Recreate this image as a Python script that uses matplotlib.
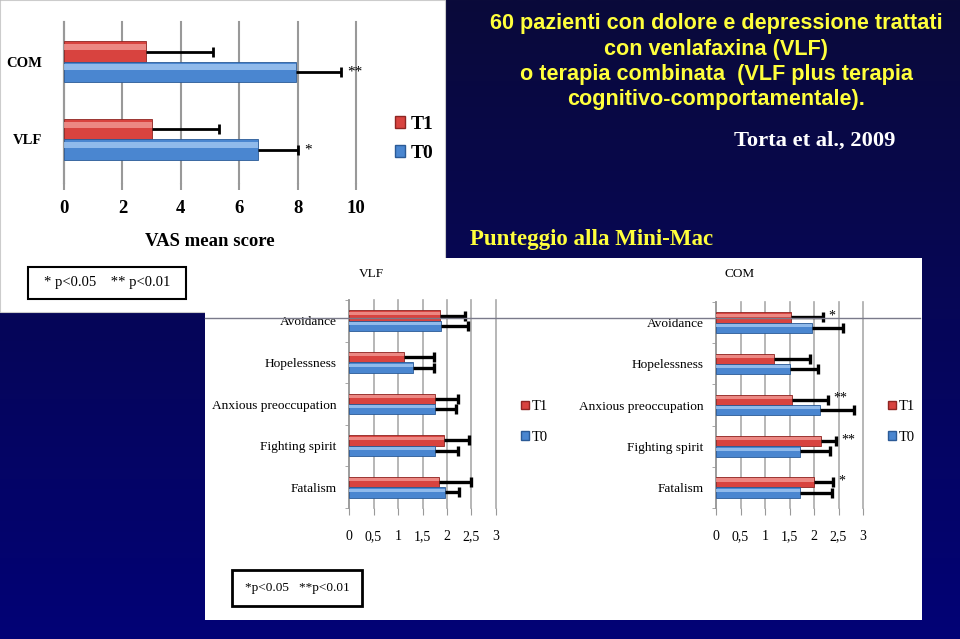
import numpy as np
import matplotlib
matplotlib.use('Agg')
import matplotlib.pyplot as plt
from matplotlib.patches import Rectangle, Patch
from matplotlib.lines import Line2D

# VAS chart
vas_cats = ['VLF', 'COM']
vas_t1 = [3.03, 2.80]
vas_t1_err = [2.27, 2.30]
vas_t0 = [6.63, 7.93]
vas_t0_err = [1.37, 1.54]
vas_stars = ['*', '**']

# Mini-Mac charts (top to bottom)
mm_cats = ['Avoidance', 'Hopelessness', 'Anxious preoccupation', 'Fighting spirit', 'Fatalism']
vlf_t1 = [1.85, 1.12, 1.76, 1.94, 1.84]
vlf_t1_err = [0.51, 0.61, 0.47, 0.50, 0.66]
vlf_t0 = [1.88, 1.31, 1.76, 1.76, 1.95]
vlf_t0_err = [0.54, 0.42, 0.43, 0.47, 0.30]
com_t1 = [1.54, 1.19, 1.56, 2.15, 2.00]
com_t1_err = [0.64, 0.73, 0.72, 0.30, 0.39]
com_t0 = [1.95, 1.50, 2.12, 1.72, 1.71]
com_t0_err = [0.64, 0.59, 0.69, 0.61, 0.65]
com_stars = ['*', '', '**', '**', '*']
mm_ticks = [0, 0.5, 1, 1.5, 2, 2.5, 3]
mm_ticklabels = ['0', '0,5', '1', '1,5', '2', '2,5', '3']

title_lines = ['60 pazienti con dolore e depressione trattati',
               'con venlafaxina (VLF)',
               'o terapia combinata  (VLF plus terapia',
               'cognitivo-comportamentale).']

W, H = 960, 639
RED, RED_HI, RED_ED = '#d8433f', '#f29a95', '#8e2522'
BLUE, BLUE_HI, BLUE_ED = '#4a86d0', '#a3c8f2', '#2b5a96'
YELLOW = '#ffff3c'
SERIF = 'Liberation Serif'
SANS = 'Liberation Sans'


def box(x0, y0, x1, y1):
    return [x0 / W, 1 - y1 / H, (x1 - x0) / W, (y1 - y0) / H]


def fx(x):
    return x / W


def fy(y):
    return 1 - y / H


fig = plt.figure(figsize=(9.6, 6.39), dpi=100)

# navy gradient background
bg = fig.add_axes([0, 0, 1, 1], zorder=-10)
c_top = np.array([10, 10, 58]) / 255
c_bot = np.array([2, 2, 118]) / 255
t = np.linspace(0, 1, 256)[:, None]
grad = (c_top[None, :] * (1 - t) + c_bot[None, :] * t)[:, None, :]
bg.imshow(grad, aspect='auto', extent=[0, 1, 0, 1])
bg.set_xlim(0, 1)
bg.set_ylim(0, 1)
bg.axis('off')

# white panels
fig.patches.append(Rectangle((fx(0), fy(312)), fx(445), 312 / H, transform=fig.transFigure,
                             facecolor='white', edgecolor='#cccccc', lw=0.8, zorder=-5))
fig.patches.append(Rectangle((fx(205), fy(620)), fx(922 - 205), (620 - 258) / H, transform=fig.transFigure,
                             facecolor='white', edgecolor='none', zorder=-4))


def one_err(ax, x, e, y, lw, cap):
    # one-sided error bar: line from bar end to bar end + err, cap only at the outer end
    ax.hlines(y, x, np.add(x, e), color='black', lw=lw, zorder=4)
    ax.plot(np.add(x, e), y, ls='none', marker='|', ms=cap, mew=lw, color='black', zorder=4)


def draw_bars(ax, y, t1, t1e, t0, t0e, h, cap, lw):
    ax.barh(y + h / 2, t1, h, color=RED, edgecolor=RED_ED, lw=0.6, zorder=3, label='T1')
    ax.barh(y + h * 0.72, t1, h * 0.3, color=RED_HI, lw=0, zorder=3.5, alpha=0.8)
    ax.barh(y - h / 2, t0, h, color=BLUE, edgecolor=BLUE_ED, lw=0.6, zorder=3, label='T0')
    ax.barh(y - h * 0.28, t0, h * 0.3, color=BLUE_HI, lw=0, zorder=3.5, alpha=0.8)
    one_err(ax, t1, t1e, y + h / 2, lw, cap)
    one_err(ax, t0, t0e, y - h / 2, lw, cap)


# ---- VAS chart ----
ax1 = fig.add_axes(box(64, 22, 356, 183))
y1 = np.arange(len(vas_cats))
h1 = 0.26
draw_bars(ax1, y1, vas_t1, vas_t1_err, vas_t0, vas_t0_err, h1, 7, 2)
ax1.set_xlim(0, 10)
ax1.set_ylim(-0.56, 1.51)
ax1.set_xticks(range(0, 11, 2))
ax1.set_xticklabels([str(v) for v in range(0, 11, 2)], fontfamily=SERIF, fontweight='bold', fontsize=13.5)
ax1.set_yticks(y1)
ax1.set_yticklabels(vas_cats, fontfamily=SERIF, fontweight='bold', fontsize=10.5)
ax1.tick_params(axis='y', length=0, pad=16)
ax1.tick_params(axis='x', length=5, color='#999999', width=1.5, pad=7)
ax1.grid(axis='x', color='#999999', lw=1.5, zorder=0)
for gl in ax1.get_xgridlines():
    gl.set_clip_on(False)
for s in ['top', 'right', 'bottom']:
    ax1.spines[s].set_visible(False)
ax1.spines['left'].set_color('#999999')
ax1.spines['left'].set_linewidth(1.5)
ax1.set_xlabel('VAS mean score', fontfamily=SERIF, fontweight='bold', fontsize=13.5, labelpad=12)
for i, s in enumerate(vas_stars):
    ax1.annotate(s, (vas_t0[i] + vas_t0_err[i], y1[i] - h1 / 2), xytext=(5, 0), textcoords='offset points',
                 ha='left', va='center', fontsize=11, fontfamily=SERIF)
fig.legend(handles=[Patch(facecolor=RED, edgecolor=RED_ED), Patch(facecolor=BLUE, edgecolor=BLUE_ED)],
           labels=['T1', 'T0'], loc='center left', bbox_to_anchor=(fx(385), fy(139)),
           frameon=False, borderpad=0, handlelength=0.55, handleheight=0.55, handletextpad=0.25,
           labelspacing=0.6, prop=dict(family=SERIF, weight='bold', size=14))

fig.patches.append(Rectangle((fx(28), fy(299)), fx(186 - 28), 32 / H, transform=fig.transFigure,
                             facecolor='white', edgecolor='black', lw=1.5, zorder=2))
fig.text(fx(107), fy(283), '* p<0.05    ** p<0.01', ha='center', va='center',
         fontfamily=SERIF, fontsize=10.5)


# ---- Mini-Mac charts ----
def minimac(rect, title, tx, t1, t1e, t0, t0e, stars, leg_x):
    ax = fig.add_axes(box(*rect))
    y = np.arange(len(mm_cats))[::-1]
    h = 0.25
    draw_bars(ax, y, t1, t1e, t0, t0e, h, 7, 2.4)
    ax.set_xlim(0, 3)
    ax.set_ylim(-0.5, 4.5)
    ax.set_xticks(mm_ticks)
    ax.set_xticklabels(mm_ticklabels, fontfamily=SERIF, fontsize=10)
    ax.set_yticks(y)
    ax.set_yticklabels(mm_cats, fontfamily=SERIF, fontsize=9.6)
    ax.set_yticks(np.arange(-0.5, 5, 1), minor=True)
    ax.tick_params(axis='y', which='major', length=0, pad=9)
    ax.tick_params(axis='y', which='minor', length=3, color='#999999')
    ax.tick_params(axis='x', length=5, color='#999999', pad=11)
    ax.grid(axis='x', color='#aaaaaa', lw=1.2, zorder=0)
    for gl in ax.get_xgridlines():
        gl.set_clip_on(False)
    for s in ['top', 'right', 'bottom']:
        ax.spines[s].set_visible(False)
    ax.spines['left'].set_color('#999999')
    ax.spines['left'].set_linewidth(1.2)
    for i, s in enumerate(stars):
        if s:
            ax.annotate(s, (t1[i] + t1e[i], y[i] + h / 2), xytext=(4, 1), textcoords='offset points',
                        ha='left', va='center', fontsize=10, fontfamily=SERIF)
    fig.text(fx(tx), fy(274), title, ha='center', va='center', fontfamily=SERIF, fontsize=9.5)
    fig.legend(handles=[Patch(facecolor=RED, edgecolor=RED_ED), Patch(facecolor=BLUE, edgecolor=BLUE_ED)],
               labels=['T1', 'T0'], loc='center left', bbox_to_anchor=(fx(leg_x), fy(422)),
               frameon=False, borderpad=0, handlelength=0.5, handleheight=0.5, handletextpad=0.2,
               labelspacing=1.2, prop=dict(family=SERIF, size=10.5))
    return ax


minimac((349, 300, 496, 508), 'VLF', 371, vlf_t1, vlf_t1_err, vlf_t0, vlf_t0_err, [''] * 5, 514)
minimac((716, 302, 863, 508), 'COM', 740, com_t1, com_t1_err, com_t0, com_t0_err, com_stars, 881)

fig.add_artist(Line2D([fx(205), fx(920)], [fy(318), fy(318)], transform=fig.transFigure,
                      color='#7a7a8a', lw=1, zorder=10))

fig.patches.append(Rectangle((fx(232), fy(606)), fx(362 - 232), 36 / H, transform=fig.transFigure,
                             facecolor='white', edgecolor='black', lw=2, zorder=2))
fig.text(fx(297), fy(588), '*p<0.05   **p<0.01', ha='center', va='center',
         fontfamily=SERIF, fontsize=9.5)

# slide texts
for i, line in enumerate(title_lines):
    fig.text(fx(716), fy(24 + 25.3 * i), line, ha='center', va='center', color=YELLOW,
             fontfamily=SANS, fontweight='bold', fontsize=15.6)
fig.text(fx(815), fy(141), 'Torta et al., 2009', ha='center', va='center', color='white',
         fontfamily=SERIF, fontweight='bold', fontsize=16.2)
fig.text(fx(470), fy(240), 'Punteggio alla Mini-Mac', ha='left', va='center', color=YELLOW,
         fontfamily=SERIF, fontweight='bold', fontsize=16.5)

fig.savefig('out.png', dpi=100)
